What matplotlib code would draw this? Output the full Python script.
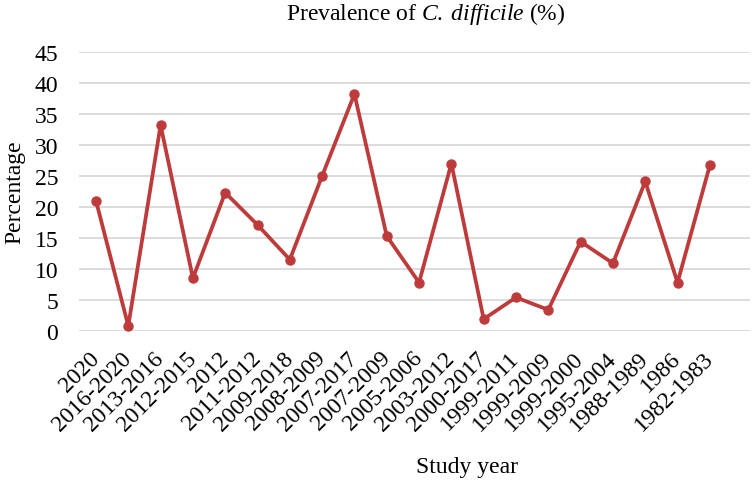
import matplotlib.pyplot as plt

years = ['2020', '2016-2020', '2013-2016', '2012-2015', '2012', '2011-2012',
         '2009-2018', '2008-2009', '2007-2017', '2007-2009', '2005-2006',
         '2003-2012', '2000-2017', '1999-2011', '1999-2009', '1999-2000',
         '1995-2004', '1988-1989', '1986', '1982-1983']
prevalence = [21.0, 0.8, 33.2, 8.5, 22.3, 17.1, 11.5, 25.0, 38.2, 15.3,
              7.8, 27.0, 1.9, 5.4, 3.4, 14.4, 10.9, 24.1, 7.8, 26.7]

plt.rcParams['font.family'] = 'Liberation Serif'
plt.rcParams['mathtext.fontset'] = 'custom'
plt.rcParams['mathtext.rm'] = 'Liberation Serif'
plt.rcParams['mathtext.it'] = 'Liberation Serif:italic'

fig = plt.figure(figsize=(7.54, 4.81), dpi=100)
ax = fig.add_axes([0.105, 0.31, 0.89, 0.58])

x = list(range(len(years)))
ax.plot(x, prevalence, color='#BE3B3B', lw=2.7, marker='o', ms=6.5)

ax.set_ylim(0, 45)
ax.set_yticks(range(0, 50, 5))
ax.set_xlim(-0.52, 20.25)
ax.set_xticks(x)
ax.set_xticklabels(years, rotation=45, ha='right', va='center', rotation_mode='anchor')
ax.tick_params(axis='both', length=0, labelsize=17)
ax.tick_params(axis='x', pad=17)
ax.tick_params(axis='y', pad=15)
ax.grid(axis='y', color='#d6d6d6', lw=1.2)
ax.set_axisbelow(True)
for s in ax.spines.values():
    s.set_visible(False)

ax.set_ylabel('Percentage', fontsize=17)
ax.yaxis.set_label_coords(-0.08, 0.5)
ax.set_xlabel('Study year', fontsize=17)
ax.xaxis.set_label_coords(0.578, -0.45)
fig.text(0.565, 0.971, r'Prevalence of $\mathit{C.}\;\mathit{difficile}$ (%)',
         ha='center', va='center', fontsize=17)

fig.savefig('out.png', dpi=100)
